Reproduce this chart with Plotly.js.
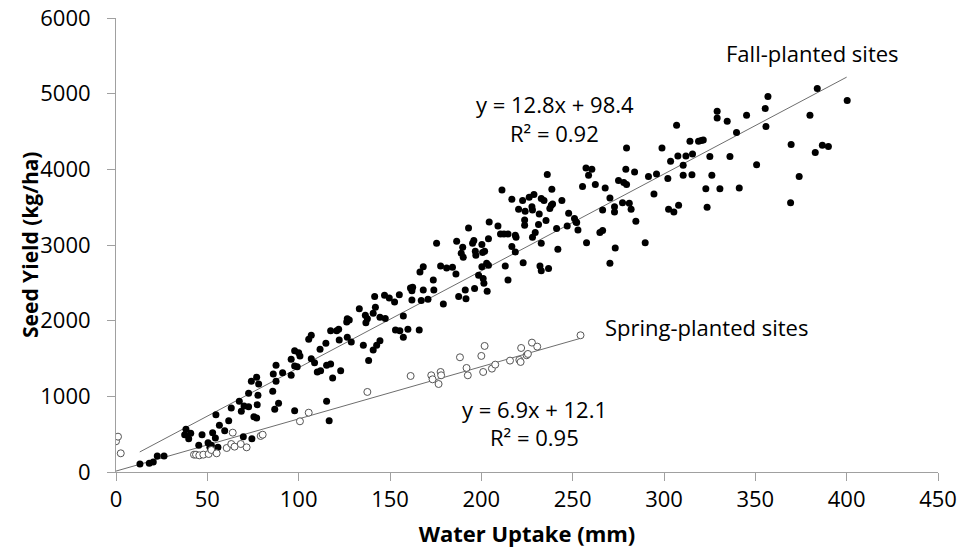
<!DOCTYPE html>
<html>
<head>
<meta charset="utf-8">
<script src="https://cdn.plot.ly/plotly-3.0.1.min.js"></script>
<style>
html,body{margin:0;padding:0;background:#fff;}
#chart{width:965px;height:554px;}
</style>
</head>
<body>
<div id="chart"></div>
<script>
// Fall-planted sites (filled markers)
var fallX = [13.1,18.2,20.4,22.6,26.3,38.3,40.9,37.6,39.8,47.1,45.3,50.4,52.9,54.7,54.4,52.2,51.4,55.8,56.6,59.5,
61.7,63.1,67.5,68.6,70.1,72.6,72.6,74.1,77.0,78.1,77.7,77.3,75.5,77.0,69.7,74.4,85.8,87.6,86.9,89.0,
86.1,87.6,91.2,95.9,95.9,97.8,97.8,99.2,100,97.8,
100.7,106.9,108.7,105.5,106.9,110.2,112,111.7,114.9,115.3,117.5,118.6,123,117.5,120.8,121.9,122.2,126.6,128.8,126.6,
127.7,126.3,133.2,135.4,138.3,136.5,137.6,136.8,140.8,142,141.6,140.8,142.7,144.5,144.5,147,149.6,147.4,152.5,155.1,
153,155.4,157.3,159.8,166,115.3,116.7,
157.3,161.2,162,162.4,162,167.1,170.8,168.2,166.4,168.2,173.7,174,175.5,177.7,179.2,181,184.2,186.1,186.5,187.6,
189.8,189,190.1,191.2,191.6,193,195.2,195.9,196.7,197,200.3,200.7,201.8,198.5,200.3,201,201.4,196.3,203.2,202.9,
203.9,203.9,204.3,209.1,210.5,212.4,214.6,213.1,214.6,211.3,216.7,216.7,218.6,219,218.6,220.4,222.6,222.9,223.7,223.7,
224,226.2,227.7,228.8,228,228,229.5,231.3,231.7,232.8,232.1,232.8,232.8,234.3,235.4,236.1,236.8,237.5,238.3,239,
238.6,241.2,241.9,244.1,247,247.8,251,251.8,252.9,
252.2,255.4,257.3,260.5,258.7,262.4,257.6,264.9,266.4,266.4,267.8,270.4,272.9,272.9,273.3,275.1,277.3,278,279.5,279.5,
279.1,281,282,283.9,284.6,289.7,291.5,294.5,295.9,298.9,302.1,302.5,305.4,308,303.6,306.9,307.6,310.5,310.5,312,
314.2,315.6,315.3,318.9,320.4,321.5,322.9,323.6,325.1,326.2,329.1,329.1,330.6,334.6,336.1,339.7,341.2,345.2,350.7,
356.9,355.4,355.8,369.6,374,369.3,379.9,383.9,382.8,386.7,390,400.3,270.4];
var fallY = [106,115,132,211,211,564,511,493,440,493,352,387,520,757,449,352,326,326,617,546,
678,846,935,802,872,863,1040,1199,1252,1163,1014,890,731,714,467,440,1067,1199,829,908,
1296,1411,1313,1278,1490,1604,1401,1392,1577,810,
1533,1498,1445,1754,1807,1322,1339,1622,1701,1410,1428,1243,1339,1868,1868,1886,1745,1780,1719,2026,
2009,1983,2159,1675,1472,2071,2026,1974,2097,2177,2318,1613,1675,1736,2045,2336,2300,2027,2247,2344,
1877,1868,1780,1886,1877,935,678,
2062,2432,2397,2442,2274,2265,2283,2406,2644,2714,2538,2406,3023,2723,2221,2697,2706,2618,3050,2318,
2970,2891,2838,2406,2291,3226,3023,3058,2918,2865,3005,2900,2918,2600,2714,2556,2494,2424,2389,2759,
2732,3084,3305,3252,3146,3146,3146,2723,2538,3728,3605,2979,3129,3102,2908,3473,3587,2767,3331,3261,
3446,3631,3507,3666,3464,3103,3164,3270,3411,3023,2723,2661,3613,3587,3323,3931,2688,3481,3526,3543,
3737,3217,2944,3587,3252,3420,3349,3305,3199,
3296,3772,4019,4001,3922,3798,3031,3164,3190,3464,3754,3622,3507,3437,2961,3851,3560,3825,3798,4283,
4001,3552,3473,3966,3314,3031,3904,3675,3939,4283,3878,3473,3437,3526,4107,4583,4177,4054,3922,4177,
4371,4204,3930,4371,4380,4389,3745,3499,4168,3922,4768,4680,3745,4636,4168,4486,3754,4715,4062,
4962,4803,4565,4327,3904,3560,4715,5068,4221,4318,4301,4909,2759];

// Spring-planted sites (open markers)
var springX = [0,1.1,2.6,42.7,43.8,45.6,47.8,50.7,52.2,55.1,60.6,63.1,63.9,64.9,68.3,71.5,79.2,80.3,100.7,105.5,
137.6,161.3,172.6,173.3,177.7,178,176.6,188.3,191.9,192.6,200,201.8,201,205.8,207.6,215.7,220.8,221.5,221.8,224.8,
225.5,227.7,230.6,254.3];
var springY = [406,467,247,229,229,220,229,238,291,247,317,370,520,335,370,326,476,493,670,784,
1058,1269,1278,1225,1322,1278,1163,1516,1375,1278,1534,1666,1322,1366,1419,1472,1481,1454,1639,1543,
1560,1710,1657,1807];

// Linear fits as printed on the chart
var fallFit = {slope: 12.8, intercept: 98.4, xRange: [13, 400]};
var springFit = {slope: 6.9, intercept: 12.1, xRange: [0, 254]};

// Axis ticks
var xTicks = [0,50,100,150,200,250,300,350,400,450];
var yTicks = [0,1000,2000,3000,4000,5000,6000];

function fitY(f){ return f.xRange.map(function(x){ return f.slope*x + f.intercept; }); }

var traces = [
  {x: fallFit.xRange, y: fitY(fallFit), mode:'lines', type:'scatter',
   line:{color:'#6e6e6e', width:1}, hoverinfo:'skip', showlegend:false},
  {x: springFit.xRange, y: fitY(springFit), mode:'lines', type:'scatter',
   line:{color:'#6e6e6e', width:1}, hoverinfo:'skip', showlegend:false},
  {x: fallX, y: fallY, mode:'markers', type:'scatter', name:'Fall-planted sites',
   marker:{color:'#000', size:7, line:{width:0}}},
  {x: springX, y: springY, mode:'markers', type:'scatter', name:'Spring-planted sites',
   marker:{color:'#fff', size:7, line:{color:'#555', width:1}}}
];

var annFont = {family:'Open Sans, sans-serif', size:22, color:'#000'};
var layout = {
  width:965, height:554,
  margin:{l:116, r:27, t:18, b:82},
  paper_bgcolor:'#fff', plot_bgcolor:'#fff',
  showlegend:false,
  font:{family:'Open Sans, sans-serif', color:'#000'},
  xaxis:{
    range:[0,450], tickvals:xTicks, ticktext:xTicks.map(String),
    showgrid:false, zeroline:false, showline:true, linecolor:'#a0a0a0', linewidth:1,
    ticks:'outside', ticklen:8, tickcolor:'#a0a0a0', tickwidth:1,
    tickfont:{family:'Open Sans, sans-serif', size:22, color:'#000'},
    title:{text:'<b>Water Uptake (mm)</b>', font:{family:'Open Sans, sans-serif', size:22, color:'#000'}, standoff:14}
  },
  yaxis:{
    range:[0,6000], tickvals:yTicks, ticktext:yTicks.map(String),
    showgrid:false, zeroline:false, showline:true, linecolor:'#a0a0a0', linewidth:1,
    ticks:'outside', ticklen:8, tickcolor:'#a0a0a0', tickwidth:1, ticklabelstandoff:12,
    tickfont:{family:'Open Sans, sans-serif', size:22, color:'#000'}
  },
  annotations:[
    {x:30, y:0.5, xref:'paper', yref:'paper', xanchor:'center', yanchor:'middle', textangle:-90,
     text:'<b>Seed Yield (kg/ha)</b>', showarrow:false,
     font:{family:'Open Sans, sans-serif', size:21, color:'#000'}},
    {x:381.5, y:5539, xref:'x', yref:'y', text:'Fall-planted sites', showarrow:false, font:annFont},
    {x:240.3, y:4865, xref:'x', yref:'y', text:'y = 12.8x + 98.4', showarrow:false, font:annFont},
    {x:240.3, y:4482, xref:'x', yref:'y', text:'R² = 0.92', showarrow:false, font:annFont},
    {x:323, y:1917, xref:'x', yref:'y', text:'Spring-planted sites', showarrow:false, font:annFont},
    {x:229.3, y:833, xref:'x', yref:'y', text:'y = 6.9x + 12.1', showarrow:false, font:annFont},
    {x:229.3, y:463, xref:'x', yref:'y', text:'R² = 0.95', showarrow:false, font:annFont}
  ]
};
// place y-axis title at pixel x=30 (paper fraction relative to plot area)
layout.annotations[0].x = (30 - layout.margin.l) / (layout.width - layout.margin.l - layout.margin.r);

Plotly.newPlot('chart', traces, layout, {displayModeBar:false, staticPlot:true});
</script>
</body>
</html>
